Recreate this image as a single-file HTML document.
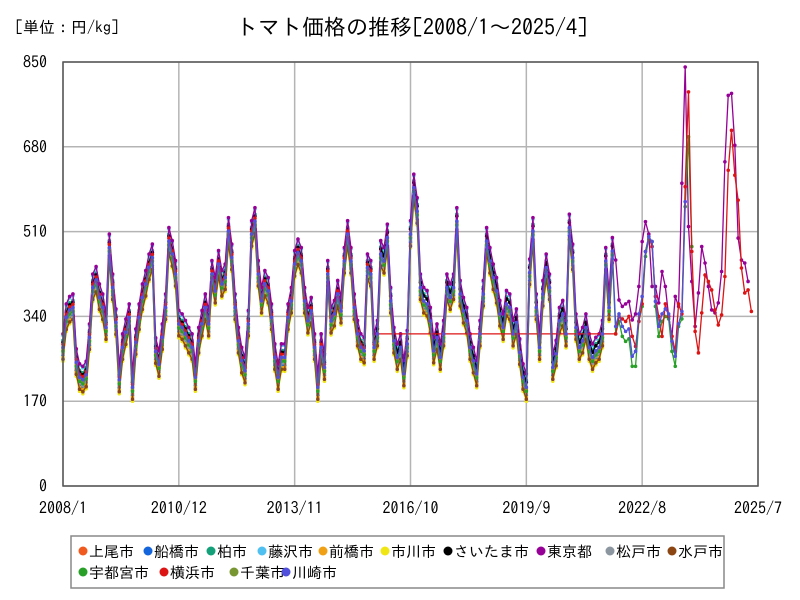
<!DOCTYPE html>
<html><head><meta charset="utf-8"><style>
body{margin:0;background:#fff;}
svg{display:block;font-family:"IPAGothic","Liberation Sans","Noto Sans CJK JP",sans-serif;}
</style></head><body>
<svg id="chart" width="800" height="600" viewBox="0 0 800 600">
<text x="15" y="33" font-size="16">[単位：円/kg]</text>
<text x="412" y="35" font-size="22" text-anchor="middle">トマト価格の推移[2008/1～2025/4]</text>
<g id="grid"></g>
<g id="series"></g>
<rect x="63" y="62" width="695" height="424" fill="none" stroke="#555" stroke-width="1.5"/>
<g id="axes"></g>
<rect x="71" y="536" width="653" height="52" fill="#fff" stroke="#888" stroke-width="1.5"/>
<g id="legend"></g>
</svg>
<script>
const yTicks=[0,170,340,510,680,850];
const xTickLabels=["2008/1","2010/12","2013/11","2016/10","2019/9","2022/8","2025/7"];
const xTickMonths=[0,35,70,105,140,175,210];
const cities=["上尾市","船橋市","柏市","藤沢市","前橋市","市川市","さいたま市","東京都","松戸市","水戸市","宇都宮市","横浜市","千葉市","川崎市"];
const colors=["#f05a1e","#1464dc","#14a078","#50c0f0","#f0a014","#f0e614","#000000","#960096","#8c96a0","#8c4614","#28a028","#dc1414","#789632","#5050dc"];
const cityOffsets=[-8,-18,12,22,-22,-30,8,25,-14,-26,-10,4,-4,-2];
const baseValues=[280,340,355,360,250,220,215,225,300,400,415,380,360,320,480,400,330,215,280,310,340,200,290,340,380,407,440,460,272,246,300,360,493,467,427,327,320,307,293,280,220,293,327,360,327,427,393,447,407,420,513,460,360,293,253,233,327,507,533,427,373,407,393,340,260,220,260,260,340,373,447,470,453,373,333,353,280,200,280,240,427,333,347,387,353,453,507,453,360,307,280,273,440,427,280,307,467,453,500,373,293,260,280,227,287,507,600,553,400,373,367,333,273,300,260,307,400,380,400,533,387,353,333,280,253,227,307,387,493,453,420,393,347,320,367,360,307,330,270,220,200,430,513,360,280,387,440,400,240,267,333,347,307,520,460,320,280,293,320,280,260,273,280,307,453,360,473];
const tokyoTail=[453,373,360,365,370,333,345,400,490,530,505,400,400,367,430,400,340,300,380,360,607,840,520,410,320,387,480,447,400,353,347,367,430,650,783,787,683,497,453,447,410];
const yokohamaTail=[305,340,335,330,340,300,280,330,365,470,500,480,380,340,300,365,340,300,270,365,345,600,790,470,310,267,347,423,410,393,353,323,343,420,633,713,623,573,437,387,393,350];
const utsunomiyaTail=[305,330,300,290,295,240,240,330,360,460,495,490,360,300,330,340,335,270,240,320,335,560,700,480];
const kawasakiTail=[320,345,320,310,315,260,270,345,380,470,500,490,370,320,345,355,345,290,260,325,350,570];
const tailStart=168;
const NS="http://www.w3.org/2000/svg";
const X0=63,X1=758,Y0=486,Y1=62;
function xs(i){return X0+i*(X1-X0)/210;}
function ys(v){return Y0-v*(Y0-Y1)/850;}
function mk(t,a,p){const e=document.createElementNS(NS,t);for(const k in a)e.setAttribute(k,a[k]);p.appendChild(e);return e;}
const grid=document.getElementById('grid'),axes=document.getElementById('axes');
yTicks.forEach(v=>{
 const l=mk('line',{x1:X0,x2:X1,y1:ys(v),y2:ys(v),stroke:'#b4b4b4','stroke-width':1.5},grid);
 
 
 const t=mk('text',{x:47,y:ys(v)+6,'font-size':16,'text-anchor':'end'},axes);
 t.textContent=v;
 
 
});
xTickMonths.forEach((m,k)=>{
 const l=mk('line',{x1:xs(m),x2:xs(m),y1:Y1,y2:Y0,stroke:'#b4b4b4','stroke-width':1.5},grid);
 
 
 const t=mk('text',{x:xs(m),y:514,'font-size':16,'text-anchor':'middle'},axes);
 t.textContent=xTickLabels[k];
 
 
});
function seriesData(c){
 const d=baseValues.map(v=>v+cityOffsets[c]);
 if(c===7){for(let j=0;j<tokyoTail.length;j++)d[tailStart-1+j]=tokyoTail[j];}
 if(c===11){for(let j=0;j<yokohamaTail.length;j++)d[tailStart-1+j]=yokohamaTail[j];for(let i=96;i<=166;i++)d[i]=null;d[95]=305;}
 if(c===10){for(let j=0;j<utsunomiyaTail.length;j++)d[167+j]=utsunomiyaTail[j];}
 if(c===13){for(let j=0;j<kawasakiTail.length;j++)d[167+j]=kawasakiTail[j];}
 return d;
}
const sg=document.getElementById('series');
cities.forEach((name,c)=>{
 const d=seriesData(c);
 const g=mk('g',{},sg);
 
 
 let pts=[];
 d.forEach((v,i)=>{if(v!=null&&i<=208)pts.push([xs(i),ys(v)]);});
 const p=mk('polyline',{points:pts.map(q=>q.join(',')).join(' '),fill:'none',stroke:colors[c],'stroke-width':1.3},g);
 
 
 pts.forEach(q=>{
  const ci=mk('circle',{cx:q[0],cy:q[1],r:1.8,fill:colors[c]},g);
  
  
 });
});
const lg=document.getElementById('legend');
const legX=[83,148,211,262,323,385,448,541,610,672,83,164,234,286];
cities.forEach((name,c)=>{
 const row=c<10?0:1;const y=row?572:551;
 const g=mk('g',{},lg);
 
 
 mk('circle',{cx:legX[c],cy:y,r:4.5,fill:colors[c]},g);
 const t=mk('text',{x:legX[c]+6,y:y+6,'font-size':15},g);
 t.textContent=name;
});
</script>
</body></html>
